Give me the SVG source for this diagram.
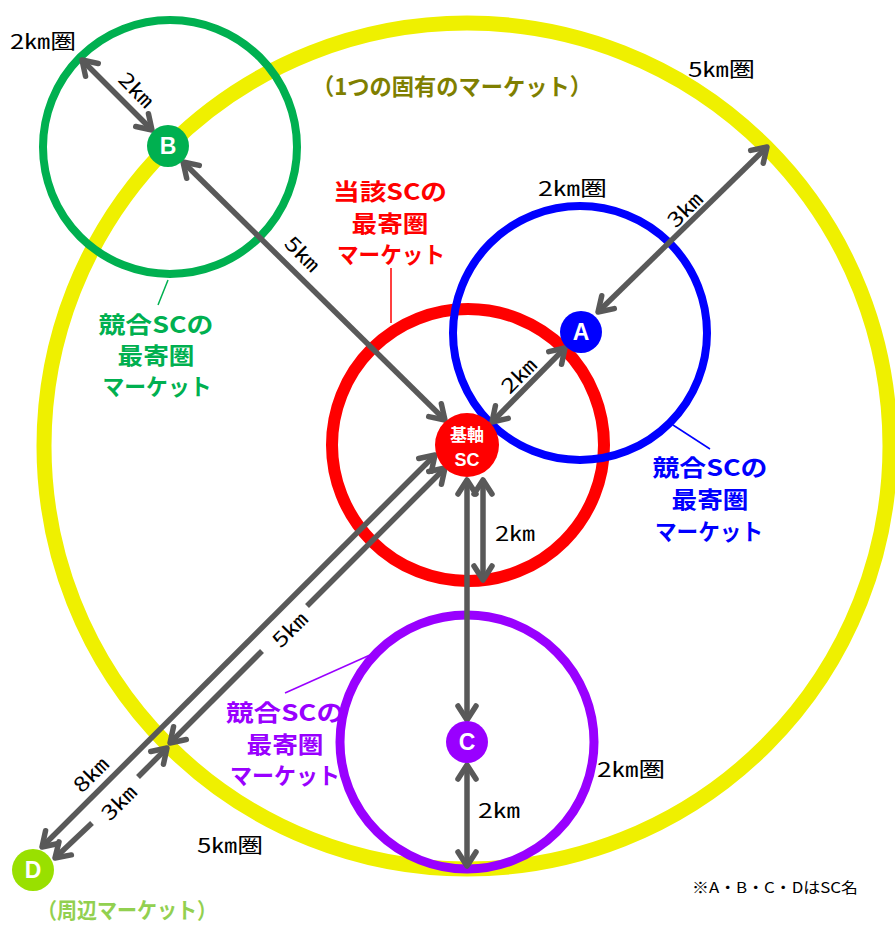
<svg xmlns="http://www.w3.org/2000/svg" width="895" height="927" viewBox="0 0 895 927">
<style>
.ring{fill:none}
.con{fill:none;stroke:#595959;stroke-width:5.5;marker-start:url(#ah);marker-end:url(#ah)}
.cs{fill:none;stroke:#595959;stroke-width:5.5;marker-start:url(#ah)}
.ce{fill:none;stroke:#595959;stroke-width:5.5;marker-end:url(#ah)}
.jp{font-family:"Noto Sans CJK JP","Noto Sans",sans-serif}
.blk{font-size:20px;fill:#000}
.dst{font-size:20px;fill:#000;text-anchor:middle}
.mk{font-size:23px;font-weight:bold;text-anchor:middle}
.nd{font-family:"Liberation Sans",Arial,sans-serif;font-weight:bold;font-size:23px;fill:#fff;text-anchor:middle}
.lead{stroke-width:1.5}
</style>
<defs>
<marker id="ah" viewBox="-20 -14 26 28" markerWidth="26" markerHeight="28" refX="0" refY="0" orient="auto-start-reverse" markerUnits="userSpaceOnUse">
<path d="M-14,-9 L0,0 L-14,9" fill="none" stroke="#595959" stroke-width="5.5" stroke-linecap="round" stroke-linejoin="round"/>
</marker>
</defs>
<rect width="895" height="927" fill="#fff"/>

<g id="ring-5km">
<circle class="ring" cx="467" cy="446" r="423" stroke="#eff000" stroke-width="15"/>
</g>
<g id="market-sc">
<circle class="ring" cx="468" cy="445" r="136" stroke="#ff0000" stroke-width="12"/>
</g>
<g id="market-A">
<circle class="ring" cx="580" cy="333" r="127" stroke="#0000ff" stroke-width="8"/>
</g>
<g id="market-B">
<circle class="ring" cx="170" cy="147" r="127" stroke="#00b050" stroke-width="8"/>
</g>
<g id="market-C">
<circle class="ring" cx="467" cy="742" r="127" stroke="#9900ff" stroke-width="9"/>
</g>

<g id="connectors">
<path class="con" d="M82,60 L152,130"/>
<path class="con" d="M183,162 L445,420"/>
<path class="con" d="M598,312 L767,147"/>
<path class="con" d="M492,422 L565,348"/>
<path class="con" d="M467,480 L467,720"/>
<path class="con" d="M483,480 L483,580"/>
<path class="con" d="M467,765 L467,866"/>
<path class="con" d="M435,455 L42,847"/>
<path class="cs" d="M445,468 L307,606"/>
<path class="ce" d="M262,651 L170,743"/>
<path class="cs" d="M167,748 L138,777"/>
<path class="ce" d="M92,823 L55,858"/>
<line class="lead" x1="391" y1="268" x2="391" y2="323" stroke="#ff0000"/>
<line class="lead" x1="168" y1="280" x2="158" y2="305" stroke="#00b050"/>
<line class="lead" x1="673" y1="425" x2="710" y2="449" stroke="#0000ff"/>
<line class="lead" x1="285" y1="693" x2="370" y2="655" stroke="#9900ff"/>
</g>

<g id="distance-labels" class="jp">
<text class="dst" transform="translate(136,90) rotate(45)" y="7" textLength="40" lengthAdjust="spacingAndGlyphs">2㎞</text>
<text class="dst" transform="translate(302,254) rotate(45)" y="7" textLength="40" lengthAdjust="spacingAndGlyphs">5㎞</text>
<text class="dst" transform="translate(685,210) rotate(-45)" y="7" textLength="40" lengthAdjust="spacingAndGlyphs">3㎞</text>
<text class="dst" transform="translate(519,376) rotate(-45)" y="7" textLength="40" lengthAdjust="spacingAndGlyphs">2㎞</text>
<text class="dst" transform="translate(290,630) rotate(-45)" y="7" textLength="40" lengthAdjust="spacingAndGlyphs">5㎞</text>
<text class="dst" transform="translate(91,775) rotate(-45)" y="7" textLength="40" lengthAdjust="spacingAndGlyphs">8㎞</text>
<text class="dst" transform="translate(119,803) rotate(-45)" y="7" textLength="40" lengthAdjust="spacingAndGlyphs">3㎞</text>
<text class="blk" x="495" y="541" textLength="40" lengthAdjust="spacingAndGlyphs">2㎞</text>
<text class="blk" x="478" y="818" textLength="42" lengthAdjust="spacingAndGlyphs">2㎞</text>
</g>

<g id="radius-labels" class="jp">
<text class="blk" x="10" y="49" textLength="66" lengthAdjust="spacingAndGlyphs">2㎞圏</text>
<text class="blk" x="688" y="77" textLength="67" lengthAdjust="spacingAndGlyphs">5㎞圏</text>
<text class="blk" x="538" y="196" textLength="69" lengthAdjust="spacingAndGlyphs">2㎞圏</text>
<text class="blk" x="597" y="777" textLength="68" lengthAdjust="spacingAndGlyphs">2㎞圏</text>
<text class="blk" x="197" y="853" textLength="66" lengthAdjust="spacingAndGlyphs">5㎞圏</text>
</g>

<g id="label-sc" class="jp mk" fill="#ff0000">
<text x="390" y="200" textLength="114" lengthAdjust="spacingAndGlyphs">当該SCの</text>
<text x="390" y="232" textLength="77" lengthAdjust="spacingAndGlyphs">最寄圏</text>
<text x="391" y="263" textLength="108" lengthAdjust="spacingAndGlyphs">マーケット</text>
</g>
<g id="label-B" class="jp mk" fill="#00b050">
<text x="156" y="333" textLength="115" lengthAdjust="spacingAndGlyphs">競合SCの</text>
<text x="156" y="364" textLength="77" lengthAdjust="spacingAndGlyphs">最寄圏</text>
<text x="157" y="395" textLength="109" lengthAdjust="spacingAndGlyphs">マーケット</text>
</g>
<g id="label-A" class="jp mk" fill="#0000ff">
<text x="710" y="476" textLength="115" lengthAdjust="spacingAndGlyphs">競合SCの</text>
<text x="710" y="508" textLength="77" lengthAdjust="spacingAndGlyphs">最寄圏</text>
<text x="709" y="540" textLength="108" lengthAdjust="spacingAndGlyphs">マーケット</text>
</g>
<g id="label-C" class="jp mk" fill="#9900ff">
<text x="285" y="721" textLength="118" lengthAdjust="spacingAndGlyphs">競合SCの</text>
<text x="285" y="753" textLength="77" lengthAdjust="spacingAndGlyphs">最寄圏</text>
<text x="285" y="784" textLength="110" lengthAdjust="spacingAndGlyphs">マーケット</text>
</g>
<g id="label-5km" class="jp mk" fill="#7f7f00">
<text x="452" y="95" textLength="280" lengthAdjust="spacingAndGlyphs">（1つの固有のマーケット）</text>
</g>
<g id="label-D" class="jp mk" fill="#92d050">
<text x="127" y="918" font-size="22" style="font-size:22px" textLength="180" lengthAdjust="spacingAndGlyphs">（周辺マーケット）</text>
</g>
<g id="note" class="jp">
<text x="692" y="893" font-size="15" fill="#000" textLength="166" lengthAdjust="spacingAndGlyphs">※A・B・C・DはSC名</text>
</g>

<g id="node-sc">
<circle cx="467" cy="445" r="32" fill="#ff0000"/>
<text class="jp" x="467" y="441" font-size="17" font-weight="bold" fill="#fff" text-anchor="middle">基軸</text>
<text class="nd" x="467" y="466" style="font-size:18px">SC</text>
</g>
<g id="node-A">
<circle cx="581" cy="332" r="21" fill="#0000ff"/>
<text class="nd" x="581" y="340">A</text>
</g>
<g id="node-B">
<circle cx="168" cy="146" r="21" fill="#00b050"/>
<text class="nd" x="168" y="154">B</text>
</g>
<g id="node-C">
<circle cx="467" cy="742" r="21" fill="#9900ff"/>
<text class="nd" x="467" y="750">C</text>
</g>
<g id="node-D">
<circle cx="33" cy="870" r="21" fill="#99e000"/>
<text class="nd" x="33" y="878">D</text>
</g>
</svg>
